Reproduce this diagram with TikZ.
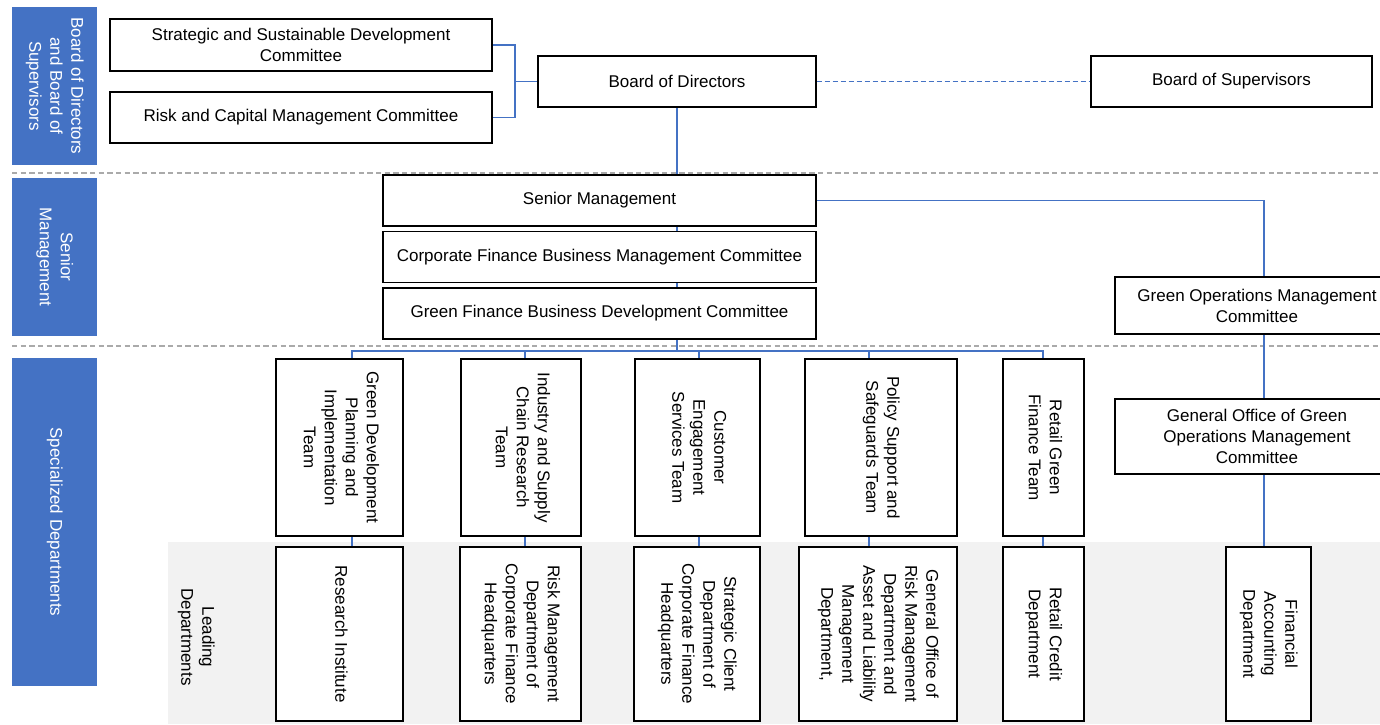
\documentclass[tikz,border=0pt]{standalone}
\usepackage{fontspec}
\setmainfont{Liberation Sans}
\usepackage{graphicx}
\usetikzlibrary{calc,backgrounds}

\definecolor{barblue}{RGB}{68,114,196}
\definecolor{bandgray}{RGB}{242,242,242}
\definecolor{rulegray}{RGB}{170,170,170}

\newcommand{\vtext}[1]{\rotatebox{-90}{\begin{tabular}{@{}c@{}}#1\end{tabular}}}

\tikzset{
  every node/.style={font=\fontsize{12.75}{15.75}\selectfont, inner sep=0pt, align=center},
  box/.style 2 args={draw=black, line width=1pt, fill=white, minimum width=#1*0.75pt, minimum height=#2*0.75pt},
  bar/.style 2 args={fill=barblue, text=white, minimum width=#1*0.75pt, minimum height=#2*0.75pt},
  link/.style={draw=barblue, line width=0.9pt},
  sep/.style={draw=rulegray, line width=1pt, dash pattern=on 4pt off 2.5pt}
}

\begin{document}
\begin{tikzpicture}[x=0.75pt, y=-0.75pt]
\useasboundingbox (0,0) rectangle (1380,724);

% left side bars
\node[bar={85}{158}] (barbod) at (54.5,86) {\vtext{Board of Directors\\and Board of\\Supervisors}};
\node[bar={85}{158}] (barsm) at (54.5,257) {\vtext{Senior\\Management}};
\node[bar={85}{328}] (barsd) at (54.5,522) {\vtext{Specialized Departments}};

% board level
\node[box={382}{52}] (ssdc) at (301,45) {Strategic and Sustainable Development\\Committee};
\node[box={382}{51}] (rcmc) at (301,117.5) {Risk and Capital Management Committee};
\node[box={278}{51}] (bod) at (677,81.5) {Board of Directors};
\node[box={281}{51}] (bos) at (1231.5,81.5) {Board of Supervisors};

% senior management
\node[box={433}{51}] (sm) at (599.5,200.5) {Senior Management};
\node[box={433}{51}] (cfbmc) at (599.5,257) {Corporate Finance Business Management Committee};
\node[box={433}{51}] (gfbdc) at (599.5,313.5) {Green Finance Business Development Committee};
\node[box={284}{57}] (gomc) at (1257,305.5) {Green Operations Management\\Committee};

% specialized departments
\node[box={284}{75}] (goffice) at (1257,436.5) {General Office of Green\\Operations Management\\Committee};

\node[box={127}{177}] (t1) at (339.5,447.5) {\vtext{Green Development\\Planning and\\Implementation\\Team}};
\node[box={120}{177}] (t2) at (521,447.5) {\vtext{Industry and Supply\\Chain Research\\Team}};
\node[box={125}{177}] (t3) at (697.5,447.5) {\vtext{Customer\\Engagement\\Services Team}};
\node[box={152}{177}] (t4) at (881,447.5) {\vtext{Policy Support and\\Safeguards Team}};
\node[box={81}{177}] (t5) at (1043.5,447.5) {\vtext{Retail Green\\Finance Team}};

% leading departments
\node (lead) at (196,637) {\vtext{Leading\\Departments}};
\node[box={127}{174}] (b1) at (339.5,634) {\vtext{Research Institute}};
\node[box={121}{174}] (b2) at (520.5,634) {\vtext{Risk Management\\Department of\\Corporate Finance\\Headquarters}};
\node[box={126}{174}] (b3) at (697,634) {\vtext{Strategic Client\\Department of\\Corporate Finance\\Headquarters}};
\node[box={158}{174}] (b4) at (878,634) {\vtext{General Office of\\Risk Management\\Department and\\Asset and Liability\\Management\\Department,}};
\node[box={81}{174}] (b5) at (1043.5,634) {\vtext{Retail Credit\\Department}};
\node[box={85}{174}] (b6) at (1268.5,634) {\vtext{Financial\\Accounting\\Department}};

\begin{pgfonlayer}{background}
\fill[bandgray] (168,542) rectangle (1380,724);
\draw[sep] (12,173) -- (1380,173);
\draw[sep] (12,346) -- (1380,346);

\coordinate (brk) at (515,81.5);
\draw[link] (ssdc.east) -| (brk) |- (rcmc.east);
\draw[link] (brk) -- (bod.west);
\draw[link, line width=1.1pt, dash pattern=on 4pt off 2pt] (bod.east) -- (bos.west);

\coordinate (bus) at (677,351);
\draw[link] (bod.south) -- (bus);
\path ($(gomc.north)+(7,0)$) coordinate (gtop);
\draw[link] (sm.east) -| (gtop);
\draw[link] (gtop |- gomc.south) -- (gtop |- goffice.north);
\draw[link] (gtop |- goffice.south) -- (gtop |- b6.north);

\foreach \t/\b/\dx in {t1/b1/12.5, t2/b2/4, t3/b3/1.5, t4/b4/-12, t5/b5/-0.5}{
  \path ($(\t.south)+(\dx,0)$) coordinate (tmp);
  \draw[link] (bus) -| ($(\t.north)+(\dx,0)$);
  \draw[link] (tmp) -- (tmp |- \b.north);
}
\end{pgfonlayer}
\end{tikzpicture}
\end{document}
